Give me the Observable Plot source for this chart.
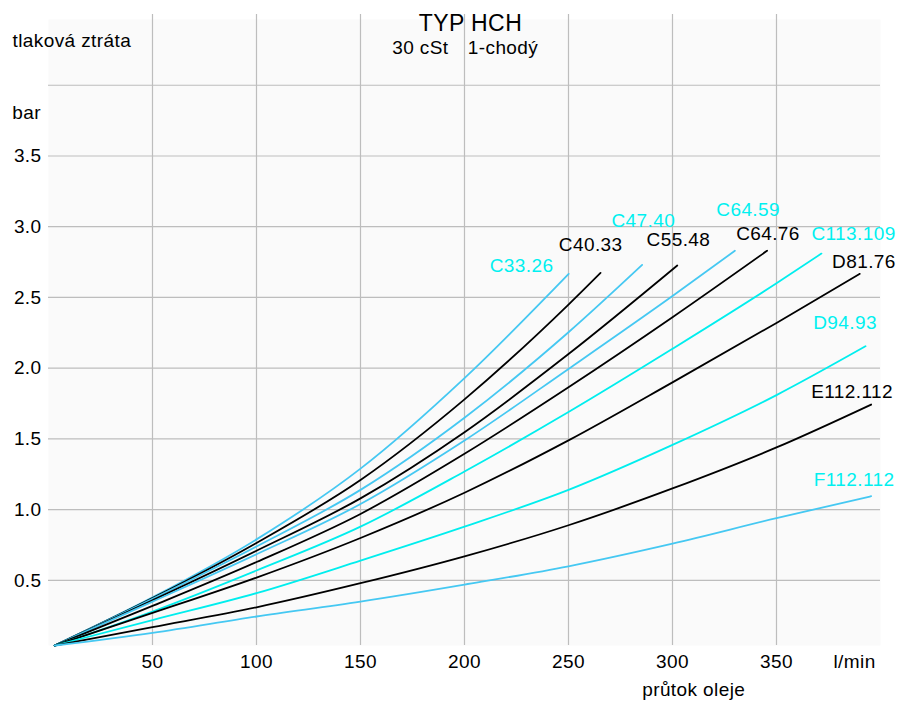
<!DOCTYPE html>
<html>
<head>
<meta charset="utf-8">
<script src="https://cdn.jsdelivr.net/npm/d3@7"></script>
<script src="https://cdn.jsdelivr.net/npm/@observablehq/plot@0.6"></script>
<style>
  html, body { margin: 0; padding: 0; background: #ffffff; }
  #chart svg text { letter-spacing: 0.4px; }
</style>
</head>
<body>
<div id="chart"></div>
<script>
// ---------- data ----------
const flowTicks = [50, 100, 150, 200, 250, 300, 350];
const pressureTicks = [0.5, 1.0, 1.5, 2.0, 2.5, 3.0, 3.5];
const pressureGrid = [0.5, 1.0, 1.5, 2.0, 2.5, 3.0, 3.5, 4.0];

const curveNames = ["C33.26", "C40.33", "C47.40", "C55.48", "C64.59", "C64.76",
                    "C113.109", "D81.76", "D94.93", "E112.112", "F112.112"];

// flow points (l/min) at which each curve is read
const flowGrid = [3, 50, 100, 150, 200, 250, 300, 350];

// pressure drop (bar) read at flowGrid, per curve
const pC33_26   = [0.04, 0.38, 0.79, 1.29, 1.93];
const pC40_33   = [0.04, 0.375, 0.765, 1.21, 1.78, 2.45];
const pC47_40   = [0.04, 0.37, 0.74, 1.14, 1.65, 2.254];
const pC55_48   = [0.04, 0.36, 0.71, 1.08, 1.548, 2.10];
const pC64_59   = [0.04, 0.35, 0.685, 1.04, 1.489, 1.995, 2.51];
const pC64_76   = [0.04, 0.32, 0.63, 0.97, 1.395, 1.865, 2.36];
const pC113_109 = [0.04, 0.28, 0.57, 0.88, 1.27, 1.69, 2.137, 2.60];
const pD81_76   = [0.04, 0.27, 0.52, 0.80, 1.12, 1.49, 1.90, 2.32];
const pD94_93   = [0.04, 0.22, 0.41, 0.64, 0.88, 1.14, 1.458, 1.81];
const pE112_112 = [0.04, 0.17, 0.31, 0.48, 0.67, 0.89, 1.15, 1.44];
const pF112_112 = [0.04, 0.13, 0.245, 0.35, 0.47, 0.60, 0.76, 0.94];

// end point of each curve
const curveEndFlow     = [250.1, 265.4, 285.4, 302.3, 330.0, 345.5, 371.6, 390.0, 392.8, 395.5, 395.5];
const curveEndPressure = [2.667, 2.674, 2.73, 2.726, 2.83, 2.83, 2.81, 2.667, 2.155, 1.743, 1.095];

const curvePressures = [pC33_26, pC40_33, pC47_40, pC55_48, pC64_59, pC64_76,
                        pC113_109, pD81_76, pD94_93, pE112_112, pF112_112];

// ---------- build table ----------
const rows = [];
curveNames.forEach((name, i) => {
  curvePressures[i].forEach((p, j) => rows.push({name, flow: flowGrid[j], p}));
  rows.push({name, flow: curveEndFlow[i], p: curveEndPressure[i]});
});
const ends = curveNames.map((name, i) => ({name, flow: curveEndFlow[i], p: curveEndPressure[i]}));

// ---------- styles ----------
const LB = "#45c8f2", BK = "#000000", CY = "#00eeee", LBL = "#00f0f0";
const lineColor = {
  "C33.26": LB, "C40.33": BK, "C47.40": LB, "C55.48": BK, "C64.59": LB, "C64.76": BK,
  "C113.109": CY, "D81.76": BK, "D94.93": CY, "E112.112": BK, "F112.112": LB
};
const labelOffset = {
  "C33.26": [-79, -1.6], "C40.33": [-41.7, -22.3], "C47.40": [-30.7, -38.3],
  "C55.48": [-30.7, -19], "C64.59": [-18.6, -35], "C64.76": [-31, -11],
  "C113.109": [-10, -13.7], "D81.76": [-27.6, -6], "D94.93": [-52.3, -17.4],
  "E112.112": [-60, -6.7], "F112.112": [-57.4, -10.7]
};
const FONT = '"Liberation Sans", Arial, Helvetica, sans-serif';
const FS = 19;

const labelMarks = ends.map(d => Plot.text([d], {
  x: "flow", y: "p", text: "name",
  textAnchor: "start", lineAnchor: "bottom",
  dx: labelOffset[d.name][0], dy: labelOffset[d.name][1],
  fill: lineColor[d.name] === BK ? BK : LBL,
  fontSize: FS
}));

const freeText = (txt, anchor, dx, dy, size) => Plot.text([txt], {
  frameAnchor: anchor, textAnchor: "start", lineAnchor: "bottom",
  dx, dy, fontSize: size, fill: "#000"
});

const chart = Plot.plot({
  width: 898,
  height: 702,
  marginLeft: 48,
  marginRight: 18,
  marginTop: 14,
  marginBottom: 57,
  style: {fontFamily: FONT, fontSize: FS + "px", background: "#ffffff", color: "#000"},
  x: {domain: [0, 400], label: null},
  y: {domain: [0.04, 4.5], label: null},
  marks: [
    Plot.frame({fill: "#fafafa", insetTop: 5}),
    Plot.gridY(pressureGrid, {stroke: "#bdbdbd", strokeOpacity: 1, strokeWidth: 1.2}),
    Plot.gridX(flowTicks, {stroke: "#bdbdbd", strokeOpacity: 1, strokeWidth: 1.2}),
    Plot.axisY(pressureTicks, {tickSize: 0, tickPadding: 7, tickFormat: d => d.toFixed(1), fontSize: FS, label: null}),
    Plot.axisX(flowTicks, {tickSize: 0, tickPadding: 9, tickFormat: d => String(d), fontSize: FS, label: null}),
    Plot.line(rows, {
      x: "flow", y: "p", z: "name",
      stroke: d => lineColor[d.name],
      strokeWidth: 1.8, curve: "monotone-x"
    }),
    ...labelMarks,
    freeText("tlaková ztráta", "top-left", -36, 32.7, FS),
    freeText("bar", "top-left", -36.3, 104.3, FS),
    freeText("TYP HCH", "top-left", 370.3, 16.7, 23),
    freeText("30 cSt", "top-left", 343.7, 39.3, FS),
    freeText("1-chodý", "top-left", 419.3, 39.3, FS),
    freeText("l/min", "bottom-left", 785, 22.3, FS),
    freeText("průtok oleje", "bottom-left", 593.7, 50, FS)
  ]
});
document.getElementById("chart").appendChild(chart);
</script>
</body>
</html>
